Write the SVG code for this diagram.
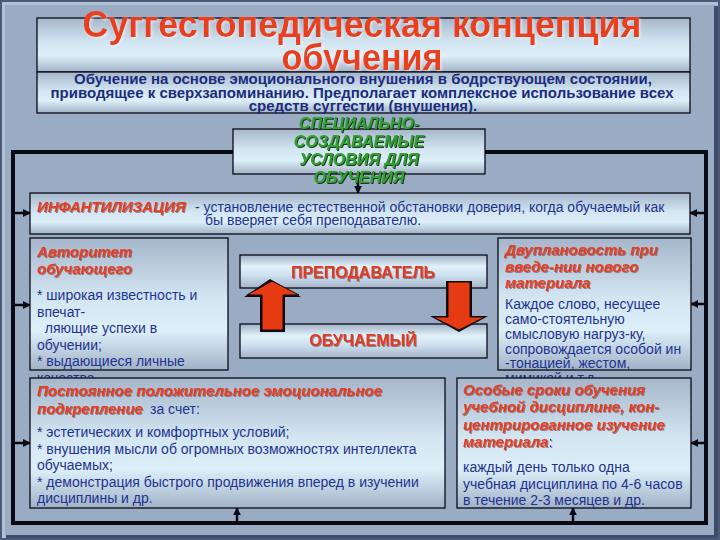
<svg xmlns="http://www.w3.org/2000/svg" width="720" height="540" viewBox="0 0 720 540">
<defs>
<linearGradient id="g" x1="0" y1="0" x2="0" y2="1">
<stop offset="0" stop-color="#A6B6CB"/>
<stop offset="0.45" stop-color="#D2E5F1"/>
<stop offset="0.7" stop-color="#DDEFF9"/>
<stop offset="1" stop-color="#A2B2C7"/>
</linearGradient>
<linearGradient id="gb" x1="0" y1="0" x2="0" y2="1">
<stop offset="0" stop-color="#9FB0C6"/>
<stop offset="0.35" stop-color="#E2F1FA"/>
<stop offset="0.6" stop-color="#CFE2F0"/>
<stop offset="1" stop-color="#A4B4C9"/>
</linearGradient>
<filter id="shr" x="-5%" y="-20%" width="110%" height="140%">
<feDropShadow dx="1" dy="1" stdDeviation="0.6" flood-color="#6A4050" flood-opacity="0.6"/>
</filter>
<filter id="shg" x="-5%" y="-20%" width="110%" height="140%">
<feDropShadow dx="1" dy="1" stdDeviation="0.3" flood-color="#102810" flood-opacity="0.9"/>
</filter>
<filter id="shw" x="-5%" y="-20%" width="110%" height="140%">
<feDropShadow dx="1.5" dy="1.5" stdDeviation="0.8" flood-color="#FFFFFF" flood-opacity="0.55"/>
</filter>
<marker id="ah" viewBox="0 0 10 10" refX="9" refY="5" markerWidth="8" markerHeight="8" markerUnits="userSpaceOnUse" orient="auto">
<path d="M0,0 L10,5 L0,10 z" fill="#0A0A14"/>
</marker>
<style>
.box{fill:url(#g);stroke:#0A0A14;stroke-width:1.3}
.bbox{fill:url(#gb);stroke:#0A0A14;stroke-width:1.3}
.t{font-family:"Liberation Sans",Arial,sans-serif}
.title{font-size:36px;font-weight:bold;fill:#E8401C;text-anchor:middle;filter:url(#shw)}
.sub{font-size:15px;font-weight:bold;fill:#1C2C7C;text-anchor:middle}
.grn{font-size:16px;font-weight:bold;font-style:italic;fill:#30A030;text-anchor:middle;filter:url(#shg)}
.hd{font-size:15px;font-weight:bold;font-style:italic;fill:#E63C1C;filter:url(#shr)}
.bd{font-size:14px;fill:#1E3290}
.cap{font-size:16px;font-weight:bold;fill:#E03A1C;text-anchor:middle;filter:url(#shr)}
.ln{stroke:#0A0A14;stroke-width:2.5;fill:none}
.frame{stroke:#0A0A14;stroke-width:4;fill:none}
.rarrow{fill:#E53A12;stroke:#1A0A0A;stroke-width:1}
.rsh{fill:#0A0A14}
</style>
</defs>

<rect x="0" y="0" width="720" height="540" fill="#9AABC4"/>
<rect x="1" y="1" width="718" height="538" fill="none" stroke="#4A5A78" stroke-width="2"/>
<rect x="3.5" y="3.5" width="713" height="533" fill="none" stroke="#B2C0D4" stroke-width="3"/>
<rect x="714" y="6" width="4" height="532" fill="#3F4C68"/>
<rect x="6" y="535" width="712" height="3" fill="#3F4C68"/>

<g id="title">
<rect class="box" x="37" y="18" width="653" height="54"/>
<text class="t title" x="362" y="37" textLength="559" lengthAdjust="spacingAndGlyphs">Суггестопедическая концепция</text>
<text class="t title" x="362" y="70" textLength="161" lengthAdjust="spacingAndGlyphs">обучения</text>
</g>

<g id="definition">
<rect class="box" x="37" y="72" width="653" height="41"/>
<text class="t sub" x="363" y="84">Обучение на основе эмоционального внушения в бодрствующем состоянии,</text>
<text class="t sub" x="362" y="98">приводящее к сверхзапоминанию. Предполагает комплексное использование всех</text>
<text class="t sub" x="363" y="111">средств суггестии (внушения).</text>
</g>

<g id="connectors">
<rect class="frame" x="13" y="152" width="693" height="371"/>
<line class="ln" x1="358" y1="174" x2="358" y2="193" marker-end="url(#ah)"/>
<line class="ln" x1="14" y1="213" x2="30" y2="213" marker-end="url(#ah)"/>
<line class="ln" x1="14" y1="305" x2="30" y2="305" marker-end="url(#ah)"/>
<line class="ln" x1="14" y1="443" x2="30" y2="443" marker-end="url(#ah)"/>
<line class="ln" x1="705" y1="213" x2="690" y2="213" marker-end="url(#ah)"/>
<line class="ln" x1="705" y1="304" x2="691" y2="304" marker-end="url(#ah)"/>
<line class="ln" x1="705" y1="443" x2="691" y2="443" marker-end="url(#ah)"/>
<line class="ln" x1="237" y1="522" x2="237" y2="508" marker-end="url(#ah)"/>
<line class="ln" x1="573" y1="522" x2="573" y2="508" marker-end="url(#ah)"/>
</g>

<g id="conditions">
<rect class="box" x="233" y="129" width="252" height="45"/>
<text class="t grn" x="359" y="129">СПЕЦИАЛЬНО-</text>
<text class="t grn" x="359" y="147">СОЗДАВАЕМЫЕ</text>
<text class="t grn" x="359" y="165">УСЛОВИЯ ДЛЯ</text>
<text class="t grn" x="359" y="183">ОБУЧЕНИЯ</text>
</g>

<g id="infantilization">
<rect class="box" x="30" y="193" width="660" height="41"/>
<text class="t hd" x="37" y="212">ИНФАНТИЛИЗАЦИЯ</text>
<text class="t bd" x="195" y="212">- установление естественной обстановки доверия, когда обучаемый как</text>
<text class="t bd" x="205" y="225">бы вверяет себя преподавателю.</text>
</g>

<g id="authority">
<rect class="box" x="30" y="238" width="198" height="132"/>
<text class="t hd" x="37" y="257">Авторитет</text>
<text class="t hd" x="37" y="274">обучающего</text>
<text class="t bd" x="37" y="300">* широкая известность и</text>
<text class="t bd" x="37" y="316.5">впечат-</text>
<text class="t bd" x="37" y="333" xml:space="preserve">  ляющие успехи в</text>
<text class="t bd" x="37" y="349.5">обучении;</text>
<text class="t bd" x="37" y="366">* выдающиеся личные</text>
<text class="t bd" x="37" y="382.5">качества</text>
</g>

<g id="teacher">
<rect class="bbox" x="240" y="255" width="247" height="33"/>
<text class="t cap" x="363" y="278">ПРЕПОДАВАТЕЛЬ</text>
</g>

<g id="learner">
<rect class="bbox" x="240" y="324" width="247" height="34"/>
<text class="t cap" x="363" y="346">ОБУЧАЕМЫЙ</text>
</g>

<g id="block-arrows">
<polygon class="rsh" points="270,279 301,297 285,297 285,332 260,332 260,297 244,297"/>
<polygon class="rarrow" points="272,281 299,295 283,295 283,330 262,330 262,295 247,295"/>
<polygon class="rsh" points="446,281 472,281 472,316 488,316 459,332 430,316 446,316"/>
<polygon class="rarrow" points="448,282 470,282 470,317 485,317 459,330 433,317 448,317"/>
</g>

<g id="dual-plan">
<rect class="box" x="498" y="238" width="193" height="132"/>
<text class="t hd" x="505" y="255">Двуплановость при</text>
<text class="t hd" x="505" y="272">введе-нии нового</text>
<text class="t hd" x="505" y="288">материала</text>
<text class="t bd" x="505" y="309">Каждое слово, несущее</text>
<text class="t bd" x="505" y="324">само-стоятельную</text>
<text class="t bd" x="505" y="339">смысловую нагруз-ку,</text>
<text class="t bd" x="505" y="354">сопровождается особой ин</text>
<text class="t bd" x="505" y="368">-тонацией, жестом,</text>
<text class="t bd" x="505" y="383">мимикой и т.д.</text>
</g>

<g id="reinforcement">
<rect class="box" x="30" y="378" width="415" height="130"/>
<text class="t hd" x="37" y="396">Постоянное положительное эмоциональное</text>
<text class="t hd" x="37" y="414">подкрепление</text>
<text class="t bd" x="150" y="414">за счет:</text>
<text class="t bd" x="37" y="437">* эстетических и комфортных условий;</text>
<text class="t bd" x="37" y="453.5">* внушения мысли об огромных возможностях интеллекта</text>
<text class="t bd" x="37" y="470">обучаемых;</text>
<text class="t bd" x="37" y="486.5">* демонстрация быстрого продвижения вперед в изучении</text>
<text class="t bd" x="37" y="503">дисциплины и др.</text>
</g>

<g id="special-terms">
<rect class="box" x="457" y="378" width="234" height="130"/>
<text class="t hd" x="463" y="395">Особые сроки обучения</text>
<text class="t hd" x="463" y="412">учебной дисциплине, кон-</text>
<text class="t hd" x="463" y="430">центрированное изучение</text>
<text class="t hd" x="463" y="447">материала<tspan fill="#1E3290" font-style="normal" font-weight="normal">:</tspan></text>
<text class="t bd" x="463" y="472">каждый день только одна</text>
<text class="t bd" x="463" y="489">учебная дисциплина по 4-6 часов</text>
<text class="t bd" x="463" y="505">в течение 2-3 месяцев и др.</text>
</g>
</svg>
